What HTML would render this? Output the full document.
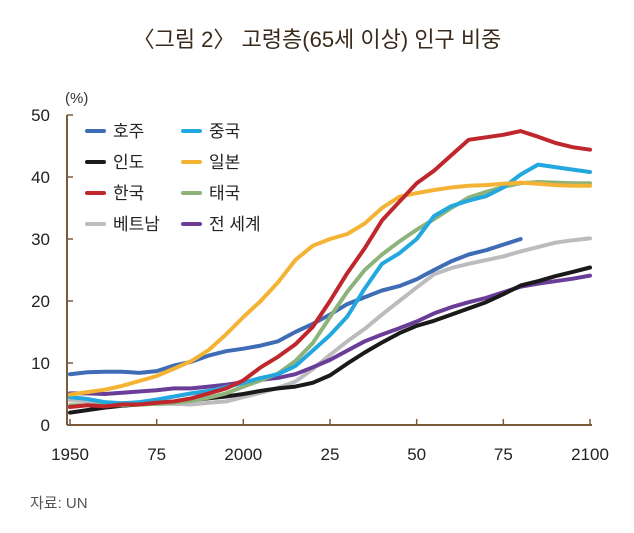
<!DOCTYPE html>
<html><head><meta charset="utf-8"><style>
body{margin:0;background:#fff;width:634px;height:528px;overflow:hidden;font-family:"Liberation Sans","Noto Sans CJK KR",sans-serif}
svg text{font-family:"Liberation Sans","Noto Sans CJK KR",sans-serif}
</style></head><body>
<svg id="chart" width="634" height="528">
<text x="317" y="47" text-anchor="middle" font-size="22" fill="#3a2a1a">〈그림 2〉 고령층(65세 이상) 인구 비중</text>
<text x="65" y="103" font-size="15" fill="#333">(%)</text>
<text x="30" y="508" font-size="15" fill="#555">자료: UN</text>
<g id="axes"></g><g id="series"></g><g id="legend"></g>
</svg>
<script>
const years=[];for(let y=1950;y<=2100;y+=5)years.push(y);
const yTicks=[0,10,20,30,40,50];
const xTicks=[1950,1975,2000,2025,2050,2075,2100];
const xTickLabels=["1950","75","2000","25","50","75","2100"];
const australia=[8.2,8.5,8.6,8.6,8.4,8.7,9.6,10.2,11.2,11.9,12.3,12.8,13.5,15,16.3,17.8,19.5,20.6,21.7,22.4,23.5,25,26.4,27.5,28.2,29.1,30];
const china=[4.5,4.2,3.7,3.5,3.7,4.1,4.6,5.1,5.5,6.1,6.8,7.6,8.2,9.5,12,14.5,17.5,22,26,27.7,30,33.7,35.3,36.2,36.9,38.3,40.4,42,41.6,41.2,40.8];
const india=[2.0,2.4,2.8,3.1,3.3,3.5,3.7,4.0,4.3,4.6,5.0,5.5,5.9,6.2,6.8,8,9.9,11.7,13.3,14.8,16,16.8,17.8,18.8,19.8,21.1,22.5,23.2,24,24.7,25.4];
const japan=[4.9,5.3,5.7,6.3,7.1,7.9,9.1,10.3,12.1,14.6,17.4,20,23,26.6,28.9,30,30.8,32.5,35,36.8,37.4,37.9,38.3,38.6,38.7,38.9,39.1,38.9,38.7,38.6,38.6];
const korea=[2.9,3.2,3.0,3.3,3.3,3.6,3.8,4.3,5.1,5.9,7.2,9.3,11,13,15.8,20,24.5,28.5,33,36,39,41,43.5,46,46.4,46.8,47.4,46.5,45.5,44.8,44.4];
const thailand=[3.2,3.2,3.2,3.2,3.3,3.4,3.6,3.9,4.4,5.1,6.2,7.2,8.3,10.3,13.2,17.4,21.5,25,27.5,29.6,31.5,33.2,35,36.7,37.6,38.4,39,39.2,39.1,39,39];
const vietnam=[4.0,3.8,3.6,3.5,3.5,3.4,3.4,3.3,3.6,3.8,4.5,5.2,6.0,7.0,9.0,11.3,13.5,15.5,17.8,20,22.2,24.3,25.3,26,26.6,27.2,28,28.7,29.4,29.8,30.1];
const world=[5.1,5.1,5.0,5.2,5.4,5.6,5.9,5.9,6.2,6.5,6.9,7.3,7.6,8.2,9.3,10.5,12.0,13.5,14.6,15.6,16.7,18.0,19.0,19.8,20.5,21.4,22.3,22.8,23.2,23.6,24.1];

const NS="http://www.w3.org/2000/svg";
const X0=70,X1=590,Y0=425,Y1=115;
const xs=yr=>X0+(yr-1950)/150*(X1-X0);
const ys=v=>Y0-v/50*(Y0-Y1);
function mk(tag,attrs,parent){const e=document.createElementNS(NS,tag);for(const k in attrs)e.setAttribute(k,attrs[k]);parent.appendChild(e);return e;}
const axes=document.getElementById('axes'),ser=document.getElementById('series'),leg=document.getElementById('legend');
const AC="#7a5c3a";
let a=mk('line',{x1:67,y1:Y1,x2:67,y2:Y0,stroke:AC,'stroke-width':2},axes);


let b=mk('line',{x1:67,y1:Y0,x2:X1+2,y2:Y0,stroke:AC,'stroke-width':2},axes);


yTicks.forEach(v=>{
 const t=mk('line',{x1:67,y1:ys(v),x2:73,y2:ys(v),stroke:AC,'stroke-width':1.5},axes);
 
 
 const l=mk('text',{x:50,y:ys(v)+6,'text-anchor':'end','font-size':17,fill:'#222'},axes);l.textContent=v;
 
 
});
xTicks.forEach((yr,i)=>{
 const t=mk('line',{x1:xs(yr),y1:Y0,x2:xs(yr),y2:Y0-6,stroke:AC,'stroke-width':1.5},axes);
 
 
 const l=mk('text',{x:xs(yr),y:Y0+35,'text-anchor':'middle','font-size':17,fill:'#222'},axes);l.textContent=xTickLabels[i];
 
 
});
const series=[
 ['australia','호주','#3f6db5',australia],['china','중국','#22a8df',china],
 ['india','인도','#1a1a1a',india],['japan','일본','#f5b335',japan],
 ['korea','한국','#c0272d',korea],['thailand','태국','#8db37b',thailand],
 ['vietnam','베트남','#bcbcbe',vietnam],['world','전 세계','#6a3e98',world]];
const order=['vietnam','world','india','australia','thailand','china','japan','korea'];
order.forEach(id=>{
 const s=series.find(q=>q[0]===id);
 const d=s[3].map((v,i)=>(i?'L':'M')+xs(years[i]).toFixed(1)+','+ys(v).toFixed(1)).join('');
 const p=mk('path',{d:d,fill:'none',stroke:s[2],'stroke-width':4,'stroke-linejoin':'round','stroke-linecap':'round'},ser);
 
 
});
series.forEach((s,i)=>{
 const cx=i%2?183:87, cy=131+Math.floor(i/2)*31;
 const g=mk('g',{},leg);
 
 
 mk('line',{x1:cx,y1:cy,x2:cx+17,y2:cy,stroke:s[2],'stroke-width':4,'stroke-linecap':'round'},g);
 const t=mk('text',{x:cx+26,y:cy+6,'font-size':17,fill:'#222'},g);t.textContent=s[1];
});
</script>
</body></html>
